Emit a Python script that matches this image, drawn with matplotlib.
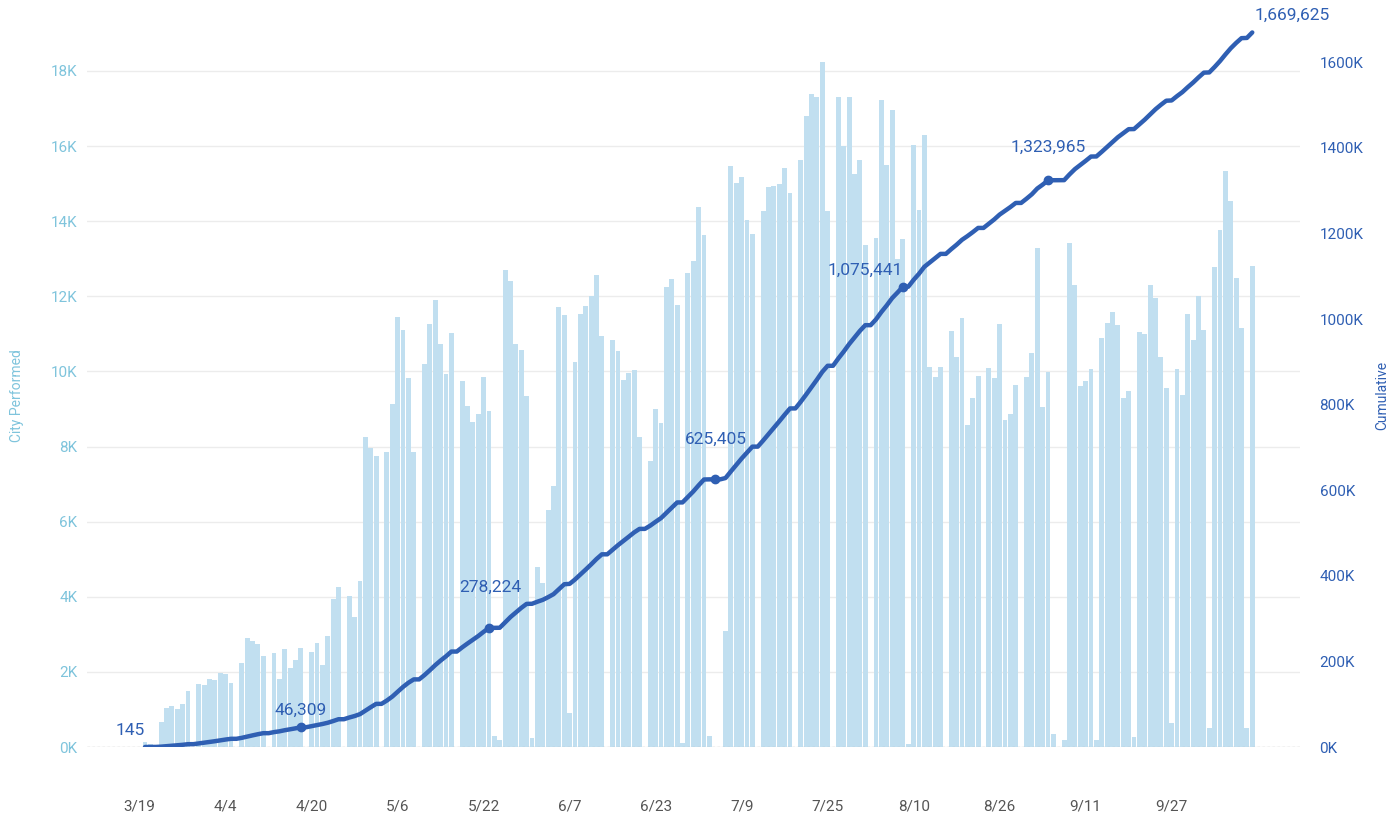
import numpy as np
import pandas as pd
import matplotlib
matplotlib.use("Agg")
import matplotlib.pyplot as plt
from matplotlib.ticker import FuncFormatter

# daily tests performed, starting 3/19
start_date = "2020-03-19"
daily_tests = [
    145, 80, 0, 670, 1050, 1090, 1020, 1150, 1490, 0,
    1670, 1640, 1820, 1780, 1980, 1940, 1700, 0, 2250, 2910,
    2820, 2730, 2420, 0, 2500, 1820, 2600, 2100, 2310, 2624,
    0, 2530, 2780, 2180, 2950, 3950, 4260, 0, 4020, 3470,
    4430, 8260, 7970, 7740, 0, 7850, 9130, 11440, 11110, 9820,
    7850, 0, 10200, 11260, 11900, 10720, 9920, 11030, 0, 9740,
    9080, 8650, 8870, 9850, 8955, 300, 200, 12700, 12410, 10740,
    10560, 9350, 230, 4800, 4360, 6310, 6950, 11710, 11490, 900,
    10260, 11540, 11740, 12000, 12560, 10950, 0, 10850, 10540, 9780,
    9970, 10030, 8260, 0, 7610, 9000, 8620, 12260, 12460, 11770,
    100, 12620, 12950, 14380, 13621, 300, 0, 0, 3100, 15480,
    15010, 15190, 14020, 13670, 0, 14260, 14920, 14940, 14980, 15430,
    14740, 0, 15630, 16790, 17390, 17320, 18250, 14260, 0, 17300,
    15990, 17320, 15270, 15630, 13370, 0, 13550, 17240, 15500, 16970,
    13000, 13516, 80, 16040, 14300, 16290, 10110, 9860, 10130, 0,
    11080, 10390, 11410, 8580, 9300, 9890, 0, 10100, 9820, 11270,
    8710, 8860, 9630, 0, 9860, 10490, 13290, 9060, 9974, 360,
    0, 200, 13420, 12310, 9610, 9740, 10070, 200, 10900, 11280,
    11570, 11230, 9280, 9490, 260, 11040, 11000, 12290, 11950, 10390,
    9570, 640, 10070, 9380, 11540, 10850, 12000, 11110, 510, 12780,
    13770, 15350, 14540, 12490, 11150, 510, 12810,
]

# days whose cumulative total is written on the chart
label_days = [0, 29, 64, 106, 141, 168, 206]
# label offsets in points (dx, dy)
label_offsets = [(-11, 12), (0, 12), (1, 29), (1, 29), (-27, 12), (0, 24), (29, 12)]

BAR_COLOR = "#c1dff0"
LINE_COLOR = "#2f5fb3"
LEFT_COLOR = "#7fc4dc"

plt.rcParams["font.family"] = ["Roboto", "DejaVu Sans"]

days = np.arange(len(daily_tests))
cumulative = np.cumsum(daily_tests)
dates = pd.date_range(start_date, periods=len(daily_tests))
tick_days = days[::16]
tick_labels = [f"{d.month}/{d.day}" for d in dates[::16]]

fig = plt.figure(figsize=(13.96, 8.15), dpi=100)
ax = fig.add_axes([0.0623, 0.0834, 0.869, 0.892])
ax2 = ax.twinx()

ax.bar(days, daily_tests, width=0.92, color=BAR_COLOR, linewidth=0, zorder=2)
ax.set_ylim(0, 19356)
ax.set_xlim(-10.8, 214.9)
ax.set_yticks(np.arange(0, 18001, 2000))
ax.yaxis.set_major_formatter(FuncFormatter(lambda v, p: f"{v / 1000:.0f}K"))
ax.grid(axis="y", color="#ececec", linewidth=1, zorder=0)
ax.set_axisbelow(True)
ax.axhline(0, color="#b5b5b5", linewidth=0.9, linestyle=(0, (2, 2)), zorder=3)

ax.set_xticks(tick_days - 1)
ax.set_xticklabels(tick_labels)
ax.tick_params(axis="x", length=0, pad=38, labelsize=11, labelcolor="#555555")
ax.tick_params(axis="y", length=0, pad=7, labelsize=11, labelcolor=LEFT_COLOR)
ax.set_ylabel("City Performed", color=LEFT_COLOR, fontsize=10)
ax.yaxis.set_label_coords(-0.052, 0.484)

ax2.plot(days, cumulative, color=LINE_COLOR, linewidth=3.2, solid_capstyle="round",
         solid_joinstyle="round", zorder=4)
ax2.plot(days[label_days[1:-1]], cumulative[label_days[1:-1]], "o",
         color=LINE_COLOR, markersize=6, zorder=5)
for d, (dx, dy) in zip(label_days, label_offsets):
    ax2.annotate(f"{cumulative[d]:,}", (d, cumulative[d]), xytext=(dx, dy),
                 textcoords="offset points", ha="center", va="center",
                 fontsize=12.5, color=LINE_COLOR, annotation_clip=False)
ax2.set_ylim(0, 1698600)
ax2.set_yticks(np.arange(0, 1600001, 200000))
ax2.yaxis.set_major_formatter(FuncFormatter(lambda v, p: f"{v / 1000:.0f}K"))
ax2.tick_params(axis="y", length=0, pad=14, labelsize=11, labelcolor=LINE_COLOR)
ax2.set_ylabel("Cumulative", color=LINE_COLOR, fontsize=10)
ax2.yaxis.set_label_coords(1.062, 0.484)

for a in (ax, ax2):
    for s in a.spines.values():
        s.set_visible(False)

fig.savefig("out.png", dpi=100)
